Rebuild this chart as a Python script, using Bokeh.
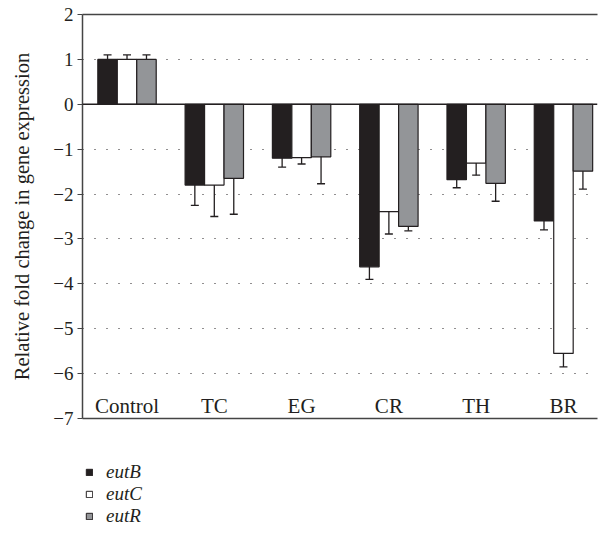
from bokeh.plotting import figure
from bokeh.layouts import column
from bokeh.models import (ColumnDataSource, Whisker, FixedTicker, LinearAxis,
                          Legend, LegendItem, Span)
from bokeh.core.properties import value
from bokeh.embed import file_html
from bokeh.resources import INLINE

# Treatments on the x axis and the three genes measured per treatment
categories = ["Control", "TC", "EG", "CR", "TH", "BR"]
genes = ["eutB", "eutC", "eutR"]

# Relative fold change (mean) and error (±) per gene, in category order
eutB_mean = [1.0, -1.80, -1.20, -3.62, -1.68, -2.60]
eutB_err = [0.10, 0.45, 0.20, 0.28, 0.18, 0.20]
eutC_mean = [1.0, -1.80, -1.19, -2.39, -1.31, -5.55]
eutC_err = [0.10, 0.70, 0.14, 0.50, 0.27, 0.30]
eutR_mean = [1.0, -1.65, -1.17, -2.72, -1.76, -1.49]
eutR_err = [0.10, 0.80, 0.60, 0.10, 0.40, 0.40]

y_ticks = [2, 1, 0, -1, -2, -3, -4, -5, -6, -7]

SERIF = "Liberation Serif"
INK = "#231f20"
fills = {"eutB": "#231f20", "eutC": "#ffffff", "eutR": "#939598"}
means = {"eutB": eutB_mean, "eutC": eutC_mean, "eutR": eutR_mean}
errs = {"eutB": eutB_err, "eutC": eutC_err, "eutR": eutR_err}

bar_w = 0.223
offsets = {"eutB": -bar_w, "eutC": 0.0, "eutR": bar_w}

p = figure(width=598, height=440, output_backend="svg", toolbar_location=None,
           x_range=(-0.51, 5.39), y_range=(-7, 2),
           min_border_left=82, min_border_top=14, min_border_right=1,
           min_border_bottom=22, x_axis_location=None)
p.outline_line_color = None
p.background_fill_color = "white"
p.border_fill_color = "white"

# dotted horizontal gridlines at each integer
p.xgrid.grid_line_color = None
p.ygrid.ticker = FixedTicker(ticks=[t for t in y_ticks if t not in (0, 2, -7)])
p.ygrid.grid_line_color = INK
p.ygrid.grid_line_dash = "1 11"
p.ygrid.grid_line_width = 1.2

# left axis
yax = p.yaxis[0]
yax.ticker = FixedTicker(ticks=y_ticks)
yax.major_label_overrides = {t: (str(t).replace("-", "\u2212")) for t in y_ticks}
yax.major_tick_in = 0
yax.major_tick_out = 5
yax.minor_tick_line_color = None
yax.axis_line_color = "#444444"
yax.axis_line_width = 1.5
yax.major_tick_line_color = "#444444"
yax.major_label_text_font = SERIF
yax.major_label_text_font_size = "19px"
yax.major_label_text_color = INK
yax.major_label_standoff = 4
yax.axis_label = "Relative fold change in gene expression"
yax.axis_label_text_font = SERIF
yax.axis_label_text_font_style = "normal"
yax.axis_label_text_font_size = "20.5px"
yax.axis_label_text_color = INK
yax.axis_label_standoff = 17

# plain frame lines at top and bottom
for side in ("above", "below"):
    ax = LinearAxis(ticker=FixedTicker(ticks=[]), major_label_text_font_size="0px",
                    axis_line_color="#444444", axis_line_width=1.5,
                    major_tick_line_color=None, minor_tick_line_color=None)
    p.add_layout(ax, side)

for g in genes:
    xs = [i + offsets[g] for i in range(len(categories))]
    src = ColumnDataSource(dict(
        x=xs, top=means[g],
        upper=[m + e for m, e in zip(means[g], errs[g])],
        lower=[m - e for m, e in zip(means[g], errs[g])]))
    p.vbar(x="x", top="top", bottom=0, width=bar_w, source=src,
           fill_color=fills[g], line_color=INK, line_width=1.2)
    w = Whisker(base="x", upper="upper", lower="lower", source=src,
                line_color=INK, line_width=1.3)
    for head in (w.upper_head, w.lower_head):
        head.size = 8
        head.line_color = INK
        head.line_width = 1.3
    p.add_layout(w)

# solid zero baseline
p.add_layout(Span(location=0, dimension="width", line_color=INK, line_width=1.5))

# category names written inside the frame near the bottom
p.text(x=list(range(len(categories))), y=[-6.73] * len(categories), text=categories,
       text_font=value(SERIF), text_font_size="21px", text_color=INK,
       text_align="center", text_baseline="alphabetic")

# legend strip underneath the chart
lg = figure(width=598, height=93, output_backend="svg", toolbar_location=None,
            x_range=(0, 1), y_range=(0, 1), min_border=0,
            x_axis_location=None, y_axis_location=None)
lg.outline_line_color = None
lg.xgrid.grid_line_color = None
lg.ygrid.grid_line_color = None
items = []
for g in genes:
    # swatch renderer kept outside the visible range; only its legend entry shows
    r = lg.vbar(x=[-5], top=[-4], bottom=[-5], width=0.1, fill_color=fills[g],
                line_color=INK, line_width=1.0)
    items.append(LegendItem(label=g, renderers=[r]))
legend = Legend(items=items, location=(3, 6),
                label_text_font=SERIF, label_text_font_style="italic",
                label_text_font_size="19px", label_text_color=INK,
                glyph_width=8, glyph_height=8, label_standoff=13,
                label_height=20, spacing=0, padding=0, margin=0,
                border_line_color=None, background_fill_alpha=0)
lg.add_layout(legend)

open("out.html", "w").write(file_html(column(p, lg, spacing=0), INLINE))
